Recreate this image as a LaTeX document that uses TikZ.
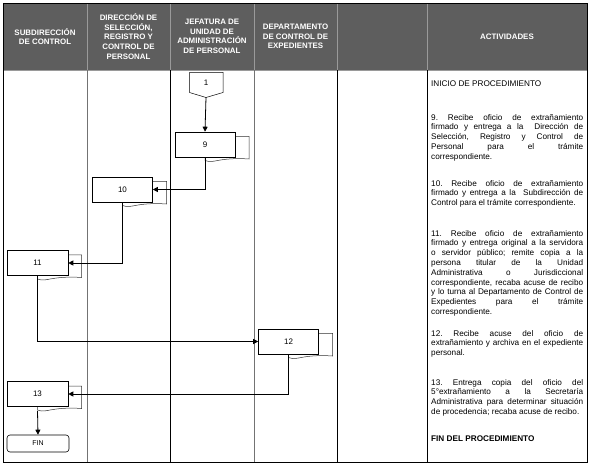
\documentclass[tikz,border=0pt]{standalone}
\usepackage{fontspec}
\setmainfont{Liberation Sans}
\usetikzlibrary{arrows.meta}
\definecolor{hdrgray}{HTML}{5E5E5E}
\definecolor{sepgray}{HTML}{9A9A9A}
\frenchspacing
\tikzset{
  hdr/.style={font=\fontsize{7.9}{9.6}\selectfont\bfseries, text=white, align=center, inner sep=0pt},
  act/.style={font=\fontsize{8.2}{9.8}\selectfont, text width=152pt, inner sep=0pt, anchor=north west, align=justify},
  front/.style={draw=black, line width=0.6pt, fill=white, minimum width=60pt, minimum height=25pt, inner sep=0pt, font=\fontsize{8}{9}\selectfont},
  backdoc/.style={draw=black!80, line width=0.5pt, fill=white},
  conn/.style={line width=0.8pt, -{Triangle[length=5pt,width=5pt]}},
  finbox/.style={draw=black, line width=0.6pt, rounded corners=3pt, minimum width=62pt, minimum height=17pt, inner sep=0pt, font=\fontsize{7}{8}\selectfont},
}
\newcommand{\docshadow}[2]{%
  \draw[backdoc] (#1,#2-8) -- (#1+44,#2-8) -- (#1+44,#2+14.5)
    .. controls (#1+30,#2+13.5) and (#1+20,#2+14.5) .. (#1+10,#2+16.5)
    .. controls (#1+5,#2+17.5) and (#1+2,#2+17) .. (#1,#2+16) -- cycle;}
\begin{document}
\begin{tikzpicture}[x=1pt,y=-1pt]
\frenchspacing
\hyphenpenalty=10000 \exhyphenpenalty=10000 \tolerance=10000
\useasboundingbox (0,0) rectangle (590,468);
% header
\fill[hdrgray] (3,3) rectangle (587,70);
\foreach \xx in {87,170,254,337,427} \draw[sepgray, line width=0.8pt] (\xx,3) -- (\xx,70);
\draw[sepgray, line width=0.6pt] (3,70) -- (587,70);
\node[hdr] (h1) at (45,36.5) {SUBDIRECCIÓN\\DE CONTROL};
\node[hdr] (h2) at (128.5,36.5) {DIRECCIÓN DE\\SELECCIÓN,\\REGISTRO Y\\CONTROL DE\\PERSONAL};
\node[hdr] (h3) at (212,36.5) {JEFATURA DE\\UNIDAD DE\\ADMINISTRACIÓN\\DE PERSONAL};
\node[hdr] (h4) at (295.5,36.5) {DEPARTAMENTO\\DE CONTROL DE\\EXPEDIENTES};
\node[hdr] (h6) at (507,36.5) {ACTIVIDADES};
% body column lines
\draw[black!55, line width=0.9pt] (87,70) -- (87,462);
\draw[black, line width=0.6pt] (170,70) -- (170,462);
\draw[black!55, line width=0.9pt] (254,70) -- (254,462);
\draw[black, line width=0.6pt] (337,70) -- (337,462);
\draw[black, line width=0.6pt] (427,70) -- (427,462);
\draw[black, line width=0.8pt] (3,3) rectangle (587,462);
% off-page connector 1
\draw[line width=0.5pt, fill=white] (189.5,72.5) -- (223,72.5) -- (223,92.5) -- (206,97.5) -- (189.5,92.5) -- cycle;
\node[font=\fontsize{8}{9}\selectfont, inner sep=0pt] (c1) at (206,82.5) {1};
\coordinate (c1tip) at (206,97.5);
% process shapes
\docshadow{205}{144.5}
\node[front] (n9) at (205,144.5) {9};
\docshadow{122.5}{189.5}
\node[front] (n10) at (122.5,189.5) {10};
\docshadow{37.5}{263}
\node[front, minimum width=61pt] (n11) at (37.5,263) {11};
\docshadow{288.5}{341.5}
\node[front] (n12) at (288.5,341.5) {12};
\docshadow{37.5}{394}
\node[front, minimum width=61pt] (n13) at (37.5,394) {13};
\node[finbox] (fin) at (38,443.5) {FIN};
% connectors
\draw[conn] (c1tip) -- (n9.north);
\draw[conn] (n9.south) |- (n10.east);
\draw[conn] (n10.south) |- (n11.east);
\draw[conn] (n11.south) |- (n12.west);
\draw[conn] (n12.south) |- (n13.east);
\draw[conn] (n13.south) ++(0,4) -- (fin.north);
% activities
\node[act] (a0) at (431,81) {INICIO DE PROCEDIMIENTO};
\node[act] (a9) at (431,114) {9. Recibe oficio de extrañamiento\linebreak firmado y entrega a la\ \ Dirección de\linebreak Selección, Registro y Control de\linebreak Personal para el trámite\linebreak correspondiente.};
\node[act] (a10) at (431,180) {10. Recibe oficio de extrañamiento\linebreak firmado y entrega a la\ \ Subdirección de\linebreak Control para el trámite correspondiente.};
\node[act] (a11) at (431,230) {11. Recibe oficio de extrañamiento\linebreak firmado y entrega original a la servidora\linebreak o servidor público; remite copia a la\linebreak persona titular de la Unidad\linebreak Administrativa o Jurisdiccional\linebreak correspondiente, recaba acuse de recibo\linebreak y lo turna al Departamento de Control de\linebreak Expedientes para el trámite\linebreak correspondiente.};
\node[act] (a12) at (431,330) {12. Recibe acuse del oficio de\linebreak extrañamiento y archiva en el expediente\linebreak personal.};
\node[act] (a13) at (431,379) {13. Entrega copia del oficio del\linebreak 5°extrañamiento a la Secretaría\linebreak Administrativa para determinar situación\linebreak de procedencia; recaba acuse de recibo.};
\node[act, font=\fontsize{8.2}{9.8}\selectfont\bfseries] (a14) at (431,436) {FIN DEL PROCEDIMIENTO};
\end{tikzpicture}
\end{document}
